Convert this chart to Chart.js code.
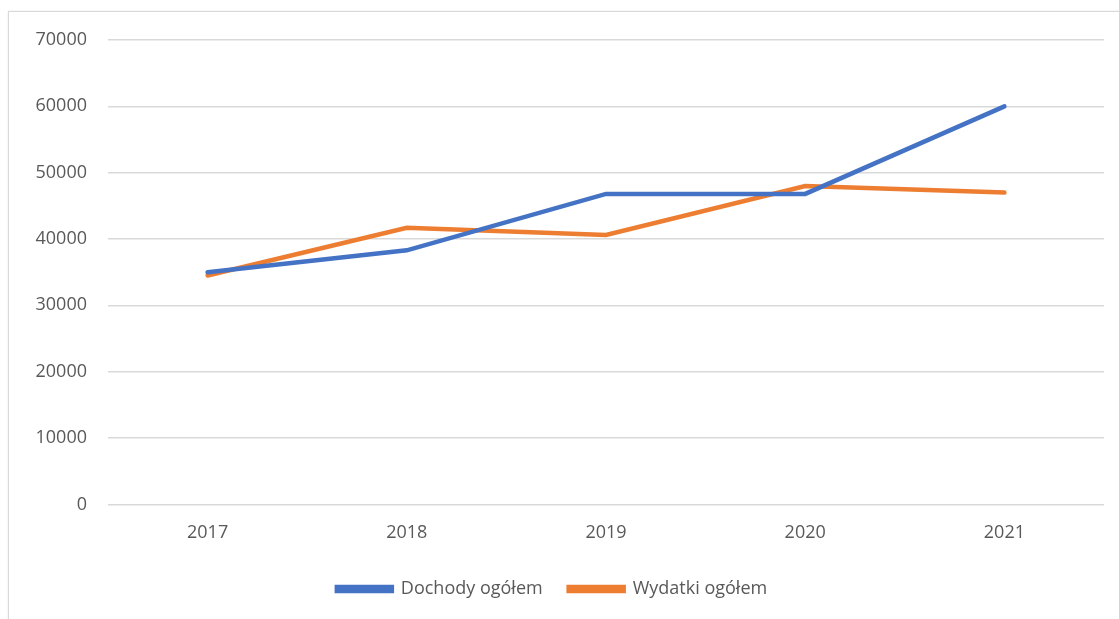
<!DOCTYPE html>
<html>
<head>
<meta charset="utf-8">
<script src="https://cdn.jsdelivr.net/npm/chart.js@4"></script>
<style>
    body { margin: 0; background: #fff; }
    #box {
        position: absolute;
        left: 8px;
        top: 11px;
        width: 1200px;
        height: 700px;
        border: 1px solid #d9d9d9;
        box-shadow: 0 0 2px #e6e6e6;
    }
    #wrap { position: absolute; left: 0; top: 0; width: 1119px; height: 619px; }
</style>
</head>
<body>
<div id="box"></div>
<div id="wrap"><canvas id="lineChart"></canvas></div>
<script>
const labels = ["2017", "2018", "2019", "2020", "2021"];
const dochody = [35000, 38300, 46800, 46800, 60000];
const wydatki = [34500, 41700, 40600, 48000, 47000];

const ctx = document.getElementById("lineChart");

new Chart(ctx, {
    type: "line",
    data: {
        labels: labels,
        datasets: [
            {
                label: "Dochody ogółem",
                data: dochody,
                borderColor: "#4472C4",
                backgroundColor: "#4472C4",
                borderWidth: 4.5,
                borderCapStyle: "round",
                pointRadius: 0,
                tension: 0
            },
            {
                label: "Wydatki ogółem",
                data: wydatki,
                borderColor: "#ED7D31",
                backgroundColor: "#ED7D31",
                borderWidth: 4.5,
                borderCapStyle: "round",
                pointRadius: 0,
                tension: 0
            }
        ]
    },
    options: {
        responsive: true,
        maintainAspectRatio: false,
        animation: false,
        layout: {
            padding: { left: 0, right: 15, top: 40, bottom: 11 }
        },
        scales: {
            x: {
                offset: true,
                grid: { display: false },
                border: { display: false },
                ticks: {
                    color: "#595959",
                    font: { family: "Open Sans", size: 18 },
                    padding: 10
                }
            },
            y: {
                min: 0,
                max: 70000,
                grid: { color: "#d9d9d9", lineWidth: 1.5, drawTicks: false },
                border: { display: false },
                ticks: {
                    stepSize: 10000,
                    color: "#595959",
                    font: { family: "Open Sans", size: 18 },
                    padding: 21,
                    callback: function (v) { return String(v); }
                },
                afterFit: function (scale) {
                    scale.width = 108;
                }
            }
        },
        plugins: {
            legend: {
                position: "bottom",
                labels: {
                    boxWidth: 55,
                    boxHeight: 4,
                    padding: 26,
                    color: "#595959",
                    font: { family: "Open Sans", size: 18 }
                }
            },
            tooltip: { enabled: false }
        }
    }
});
</script>
</body>
</html>
